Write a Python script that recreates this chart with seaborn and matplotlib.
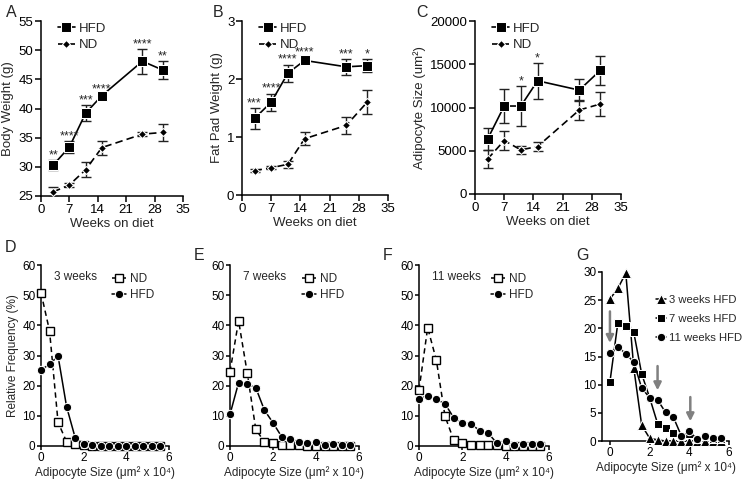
import matplotlib
matplotlib.use("Agg")
import matplotlib.pyplot as plt
import seaborn as sns
import pandas as pd

# top row: time course
weeks = [3, 7, 11, 15, 25, 30]
bw_hfd = [30.3, 33.4, 39.2, 42.2, 48.1, 46.6]
bw_hfd_err = [0.8, 1.0, 1.4, 0.3, 2.1, 1.6]
bw_nd = [25.7, 26.9, 29.5, 33.3, 35.6, 35.9]
bw_nd_err = [0.9, 0.3, 1.3, 1.2, 0.3, 1.5]
bw_stars = ["**", "****", "***", "****", "****", "**"]

fp_hfd = [1.32, 1.60, 2.10, 2.32, 2.21, 2.23]
fp_hfd_err = [0.18, 0.15, 0.15, 0.06, 0.14, 0.11]
fp_nd = [0.42, 0.47, 0.53, 0.97, 1.20, 1.60]
fp_nd_err = [0.02, 0.03, 0.06, 0.11, 0.15, 0.21]
fp_stars = ["***", "****", "****", "****", "***", "*"]

as_hfd = [6330, 10170, 10170, 13090, 12010, 14280]
as_hfd_err = [1250, 2000, 2260, 2050, 1300, 1730]
as_nd = [4030, 6180, 5100, 5490, 9710, 10400]
as_nd_err = [1050, 1050, 460, 540, 1150, 1420]
as_stars = ["", "", "*", "*", "", ""]

# bottom row: size distributions (x 10^4 um^2)
bins = [0, 0.4, 0.8, 1.2, 1.6, 2.0, 2.4, 2.8, 3.2, 3.6, 4.0, 4.4, 4.8, 5.2, 5.6]
d3_nd = [50.8, 38.2, 7.8, 1.4, 0.5, 0.2, 0, 0, 0, 0, 0, 0, 0, 0, 0]
d3_hfd = [25.2, 27.1, 29.8, 13.0, 2.8, 0.5, 0.2, 0, 0, 0, 0, 0, 0, 0, 0]
d7_nd = [24.6, 41.5, 24.3, 5.5, 1.4, 1.1, 0.3, 0.3, 0.2, 0.1, 0.1, 0, 0, 0, 0]
d7_hfd = [10.5, 21.0, 20.5, 19.3, 11.9, 7.7, 3.1, 2.3, 1.4, 0.9, 1.2, 0.3, 0.8, 0.3, 0.3]
d11_nd = [18.6, 39.2, 28.5, 9.9, 2.0, 1.1, 0.3, 0.2, 0.2, 0.2, 0.1, 0.1, 0.1, 0, 0]
d11_hfd = [15.6, 16.7, 15.5, 14.0, 9.4, 7.7, 7.3, 5.1, 4.2, 0.9, 1.7, 0.3, 0.8, 0.5, 0.5]

# gray arrows in G: (x, y_start, y_end)
arrows_g = [(0, 23.0, 17.4), (2.4, 13.3, 9.0), (4.05, 7.8, 3.5)]

sns.set_style("ticks")
plt.rcParams["font.family"] = ["Liberation Sans", "DejaVu Sans"]
plt.rcParams["axes.linewidth"] = 1.1
plt.rcParams["xtick.major.width"] = 1.1
plt.rcParams["ytick.major.width"] = 1.1

fig = plt.figure(figsize=(7.45, 4.8), dpi=100)
H = 480.0
W = 745.0


def rect(x0, x1, y0, y1):
    return [x0 / W, (H - y1) / H, (x1 - x0) / W, (y1 - y0) / H]


def style_axes(ax, fs, tlen, pad):
    sns.despine(ax=ax)
    ax.tick_params(labelsize=fs, colors="black", pad=pad, length=tlen)
    for s in ax.spines.values():
        s.set_color("black")


def time_panel(r, hfd, hfd_err, nd, nd_err, stars, ylim, yticks, ylabel, letter, lx):
    ax = fig.add_axes(r)
    for vals, err in [(hfd, hfd_err), (nd, nd_err)]:
        ax.errorbar(weeks, vals, yerr=err, fmt="none", ecolor="#222222",
                    elinewidth=1, capsize=3.5, capthick=1, zorder=2)
    sns.lineplot(x=weeks, y=hfd, ax=ax, color="black", marker="s", markersize=7,
                 linewidth=1.2, label="HFD", zorder=3, clip_on=False)
    sns.lineplot(x=weeks, y=nd, ax=ax, color="black", marker="D", markersize=4.5,
                 linewidth=1.2, linestyle=(0, (4.5, 2.5)), label="ND", zorder=3, clip_on=False)
    for w, v, e, s in zip(weeks, hfd, hfd_err, stars):
        if s:
            ax.annotate(s, (w, v + e), xytext=(0, -1), textcoords="offset points",
                        ha="center", va="bottom", fontsize=9)
    ax.set_xlim(0, 35)
    ax.set_xticks([0, 7, 14, 21, 28, 35])
    ax.set_ylim(*ylim)
    ax.set_yticks(yticks)
    ax.set_xlabel("Weeks on diet", fontsize=9.5, labelpad=2)
    ax.set_ylabel(ylabel, fontsize=9.5, labelpad=3)
    style_axes(ax, 9.5, 4, 1.5)
    ax.legend(loc="upper left", bbox_to_anchor=(0.08, 1.02), frameon=False, fontsize=9.5,
              handlelength=1.3, handletextpad=0.3, labelspacing=0.3, borderaxespad=0)
    ax.text(lx, 1.05, letter, transform=ax.transAxes, fontsize=11.5, va="center")
    return ax


time_panel(rect(41, 183, 21, 196), bw_hfd, bw_hfd_err, bw_nd, bw_nd_err, bw_stars,
           (25, 55), range(25, 56, 5), "Body Weight (g)", "A", -0.25)
time_panel(rect(242, 388, 21, 195), fp_hfd, fp_hfd_err, fp_nd, fp_nd_err, fp_stars,
           (0, 3), [0, 1, 2, 3], "Fat Pad Weight (g)", "B", -0.2)
time_panel(rect(475, 621, 21, 194), as_hfd, as_hfd_err, as_nd, as_nd_err, as_stars,
           (0, 20000), range(0, 20001, 5000), "Adipocyte Size (um\u00b2)", "C", -0.4)

xlab = "Adipocyte Size (\u03bcm\u00b2 x 10\u2074)"


def dist_panel(r, nd, hfd, tag, letter, ylabel, ly):
    ax = fig.add_axes(r)
    sns.lineplot(x=bins, y=nd, ax=ax, color="black", marker="s", markersize=6,
                 markerfacecolor="white", markeredgecolor="black", markeredgewidth=1,
                 linewidth=1.1, linestyle=(0, (3.5, 2.5)), label="ND", zorder=3, clip_on=False)
    sns.lineplot(x=bins, y=hfd, ax=ax, color="black", marker="o", markersize=6,
                 linewidth=1.1, label="HFD", zorder=4, clip_on=False)
    ax.set_xlim(0, 6)
    ax.set_xticks([0, 2, 4, 6])
    ax.set_ylim(0, 60)
    ax.set_yticks(range(0, 61, 10))
    ax.set_xlabel(xlab, fontsize=8.5, labelpad=2)
    if ylabel:
        ax.set_ylabel("Relative Frequency (%)", fontsize=8.5, labelpad=2)
    style_axes(ax, 8.5, 3, 1)
    ax.text(0.1, 0.935, tag, transform=ax.transAxes, fontsize=8.5, va="center")
    ax.legend(loc="upper left", bbox_to_anchor=(0.52, 0.98), frameon=False, fontsize=8.5,
              handlelength=1.2, handletextpad=0.3, labelspacing=0.35, borderaxespad=0)
    ax.text(-0.28, ly, letter, transform=ax.transAxes, fontsize=11.5, va="center")
    return ax


dist_panel(rect(41, 169, 265, 446), d3_nd, d3_hfd, "3 weeks", "D", True, 1.094)
dist_panel(rect(230, 359, 265, 446), d7_nd, d7_hfd, "7 weeks", "E", False, 1.055)
dist_panel(rect(419, 549, 265, 446), d11_nd, d11_hfd, "11 weeks", "F", False, 1.055)

axg = fig.add_axes(rect(602, 729, 272, 441))
sns.lineplot(x=bins, y=d3_hfd, ax=axg, color="black", marker="^", markersize=6.5,
             linewidth=1.1, linestyle=(0, (3, 2)), label="3 weeks HFD", clip_on=False, zorder=3)
sns.lineplot(x=bins, y=d7_hfd, ax=axg, color="black", marker="s", markersize=5.5,
             linewidth=1.1, label="7 weeks HFD", clip_on=False, zorder=3)
sns.lineplot(x=bins, y=d11_hfd, ax=axg, color="black", marker="o", markersize=6,
             linewidth=1.1, linestyle=(0, (1, 1.5)), label="11 weeks HFD", clip_on=False, zorder=3)
for x, y0, y1 in arrows_g:
    axg.annotate("", xy=(x, y1), xytext=(x, y0),
                 arrowprops=dict(arrowstyle="-|>", color="#808080", lw=1.8,
                                 mutation_scale=11, shrinkA=0, shrinkB=0))
axg.set_xlim(-0.4, 6)
axg.set_xticks([0, 2, 4, 6])
axg.set_ylim(0, 30)
axg.set_yticks(range(0, 31, 5))
axg.set_xlabel(xlab, fontsize=8.5, labelpad=2)
style_axes(axg, 8.5, 3, 1)
handles, labels = axg.get_legend_handles_labels()
for h in handles:
    h.set_linestyle("-")
axg.legend(handles, labels, loc="upper left", bbox_to_anchor=(0.39, 0.89), frameon=False,
           fontsize=8.1, handlelength=0.9, handletextpad=0.25, labelspacing=0.8, borderaxespad=0)
axg.text(-0.2, 1.1, "G", transform=axg.transAxes, fontsize=11.5, va="center")

fig.savefig("out.png", dpi=100)
